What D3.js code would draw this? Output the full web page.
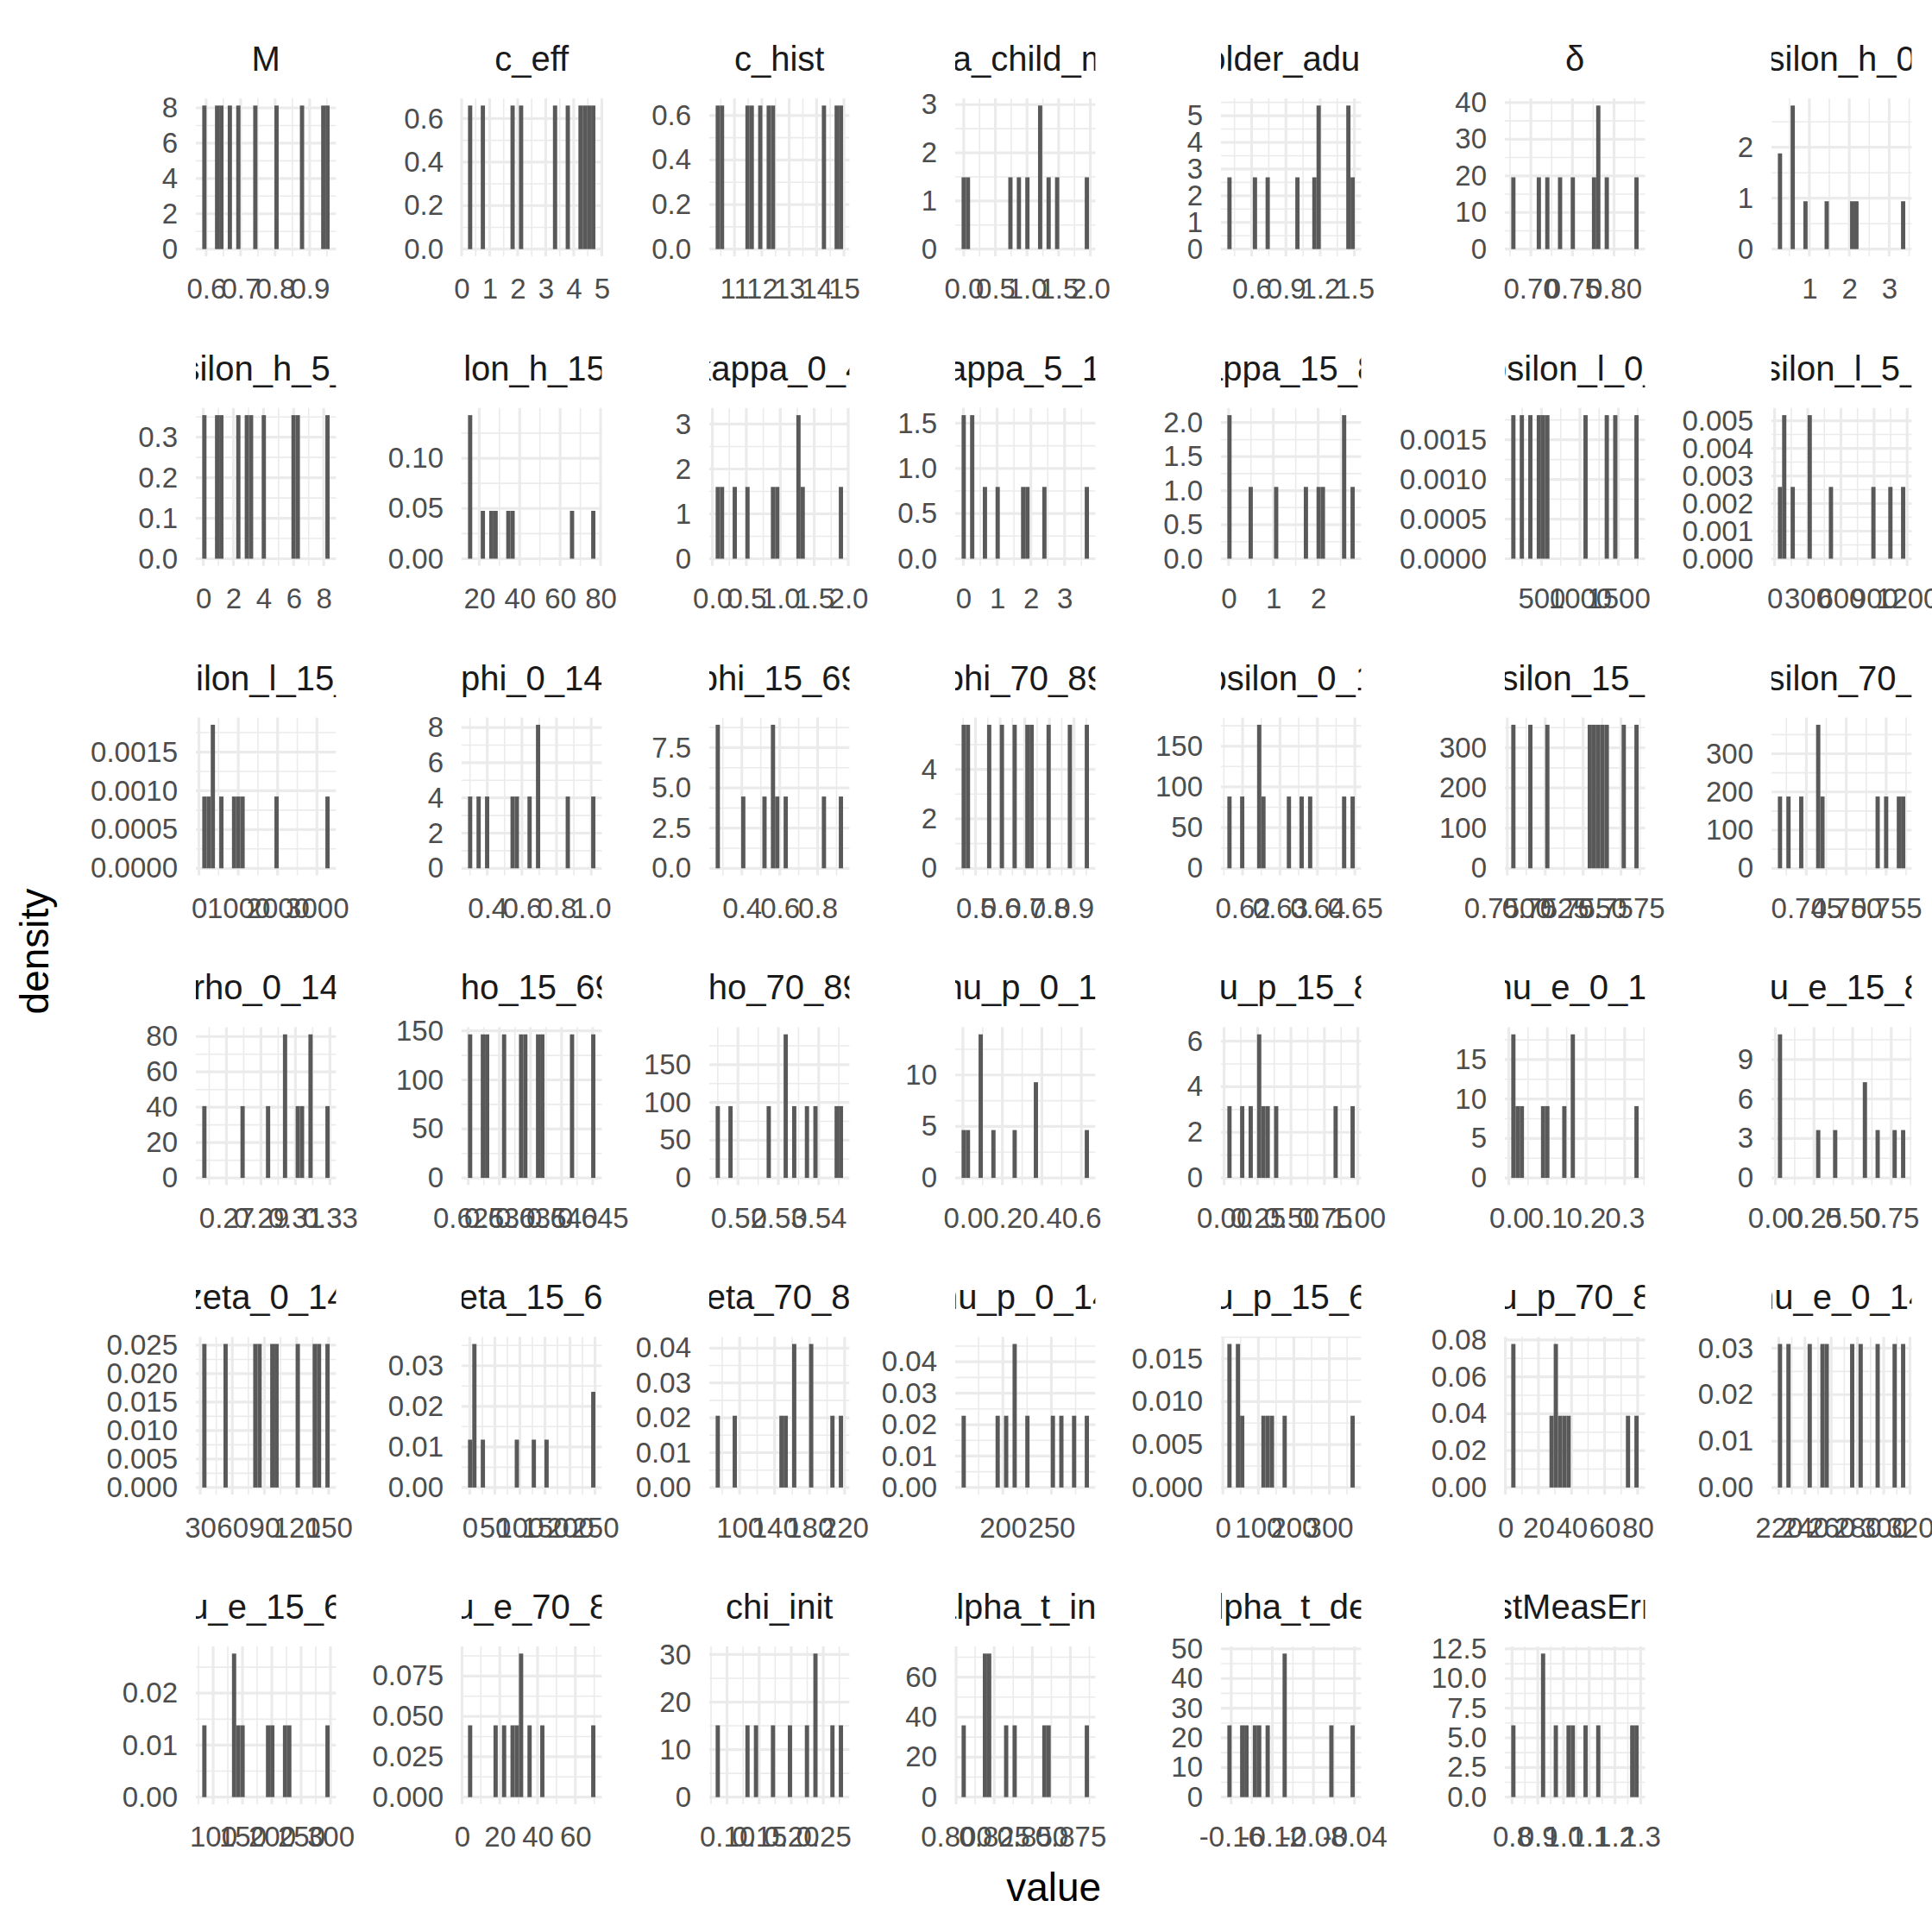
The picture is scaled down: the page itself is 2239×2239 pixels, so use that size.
<!DOCTYPE html>
<html><head><meta charset="utf-8">
<script src="https://cdn.jsdelivr.net/npm/d3@7"></script>
<style>body{margin:0;background:#fff}</style>
</head><body>
<script>
// ---------- DATA ----------
const panelNames = [
  "M","c_eff","c_hist","beta_child_mult","beta_older_adult_mult","\u03b4","epsilon_h_0_4",
  "epsilon_h_5_14","epsilon_h_15_89","kappa_0_4","kappa_5_14","kappa_15_89","epsilon_l_0_4","epsilon_l_5_14",
  "epsilon_l_15_89","phi_0_14","phi_15_69","phi_70_89","upsilon_0_14","upsilon_15_69","upsilon_70_89",
  "rho_0_14","rho_15_69","rho_70_89","mu_p_0_14","mu_p_15_89","mu_e_0_14","mu_e_15_89",
  "zeta_0_14","zeta_15_69","zeta_70_89","nu_p_0_14","nu_p_15_69","nu_p_70_89","nu_e_0_14",
  "nu_e_15_69","nu_e_70_89","chi_init","alpha_t_inc","alpha_t_dec","testMeasError"
];
// smallest and largest draw of each parameter
const dataLo = [0.595,0.303,10.39,0,0.406,0.679,0.264,
  0.07,15.5,0.08,0.01,0.02,134,48.5,
  137,0.301,0.273,0.452,0.6165,0.7504,0.7417,
  0.2572,0.6253,0.515,0.004,0.04,0.012,0.03,
  33.9,0.6,75,159.6,18.6,4.8,221,
  85,4.3,0.0855,0.805,-0.1617,0.805];
const dataHi = [0.9517,4.697,14.89,1.946,1.484,0.827,3.349,
  8.25,76.4,1.893,3.66,2.77,1736,1163.5,
  3269,1.012,0.923,0.952,0.6494,0.75852,0.75713,
  0.3286,0.6451,0.5455,0.628,0.961,0.3307,0.827,
  148.9,246.6,215.8,286.6,365.6,79.3,314.8,
  295,69.5,0.2775,0.8858,-0.0419,1.284];
// bin (of 30) that each of the 10 draws falls in
const binHits = [
  [0,3,4,6,8,12,17,23,28,29],[0,3,10,12,20,23,26,27,28,29],[0,1,7,8,10,12,13,25,28,29],
  [0,1,11,13,15,18,18,20,22,29],[0,6,9,16,20,21,21,28,28,29],[0,6,8,11,14,19,20,20,22,29],
  [0,0,3,3,3,6,11,17,18,29],
  [0,3,4,8,10,11,14,21,22,29],[0,0,0,3,5,6,9,10,24,29],[0,1,4,7,13,14,19,19,20,29],
  [0,0,2,2,5,8,14,15,19,29],[0,0,5,11,18,21,22,27,27,29],[0,2,4,6,7,8,17,22,24,29],
  [0,1,1,3,7,7,12,22,26,29],
  [0,1,2,2,4,7,8,9,17,29],[0,2,4,10,11,14,16,16,23,29],[0,0,6,11,13,13,14,16,25,29],
  [0,1,6,9,12,15,16,20,25,29],[0,3,7,7,8,14,17,19,27,29],[0,4,8,18,19,20,21,22,26,29],
  [0,2,5,9,9,10,23,25,28,29],
  [0,9,15,19,19,22,23,25,25,29],[0,3,4,8,12,13,16,17,24,29],[0,3,12,16,16,18,21,23,28,29],
  [0,1,4,4,4,7,12,17,17,29],[0,3,5,7,7,8,9,11,25,29],[0,0,1,2,7,8,12,14,14,29],
  [0,0,0,9,13,20,20,23,27,29],
  [0,5,12,13,16,17,22,26,27,29],[0,1,1,1,3,11,15,18,29,29],[0,4,15,16,18,18,22,22,27,29],
  [0,8,10,12,12,15,21,23,26,29],[0,0,2,2,3,8,9,10,13,29],[0,0,9,10,10,11,12,13,27,29],
  [0,2,7,10,11,17,19,23,27,29],
  [0,7,7,8,9,15,16,19,20,29],[0,6,8,10,11,12,12,14,17,29],[0,7,9,13,17,21,23,23,27,29],
  [0,5,5,6,6,10,12,19,20,29],[0,3,4,6,7,9,13,13,24,29],[0,7,7,10,13,14,17,20,28,29]
];
const xTickValues = [
  [0.6,0.7,0.8,0.9],[0,1,2,3,4,5],[11,12,13,14,15],[0,0.5,1,1.5,2],[0.6,0.9,1.2,1.5],[0.70,0.75,0.80],[1,2,3],
  [0,2,4,6,8],[20,40,60,80],[0,0.5,1,1.5,2],[0,1,2,3],[0,1,2],[500,1000,1500],[0,300,600,900,1200],
  [0,1000,2000,3000],[0.4,0.6,0.8,1.0],[0.4,0.6,0.8],[0.5,0.6,0.7,0.8,0.9],[0.62,0.63,0.64,0.65],[0.75,0.7525,0.755,0.7575],[0.745,0.75,0.755],
  [0.27,0.29,0.31,0.33],[0.625,0.63,0.635,0.64,0.645],[0.52,0.53,0.54],[0,0.2,0.4,0.6],[0,0.25,0.5,0.75,1.0],[0,0.1,0.2,0.3],[0,0.25,0.5,0.75],
  [30,60,90,120,150],[0,50,100,150,200,250],[100,140,180,220],[200,250],[0,100,200,300],[0,20,40,60,80],[220,240,260,280,300,320],
  [100,150,200,250,300],[0,20,40,60],[0.1,0.15,0.2,0.25],[0.8,0.825,0.85,0.875],[-0.16,-0.12,-0.08,-0.04],[0.8,0.9,1.0,1.1,1.2,1.3]
];
const yTickValues = [
  [0,2,4,6,8],[0,0.2,0.4,0.6],[0,0.2,0.4,0.6],[0,1,2,3],[0,1,2,3,4,5],[0,10,20,30,40],[0,1,2],
  [0,0.1,0.2,0.3],[0,0.05,0.1],[0,1,2,3],[0,0.5,1,1.5],[0,0.5,1,1.5,2],[0,0.0005,0.001,0.0015],[0,0.001,0.002,0.003,0.004,0.005],
  [0,0.0005,0.001,0.0015],[0,2,4,6,8],[0,2.5,5,7.5],[0,2,4],[0,50,100,150],[0,100,200,300],[0,100,200,300],
  [0,20,40,60,80],[0,50,100,150],[0,50,100,150],[0,5,10],[0,2,4,6],[0,5,10,15],[0,3,6,9],
  [0,0.005,0.01,0.015,0.02,0.025],[0,0.01,0.02,0.03],[0,0.01,0.02,0.03,0.04],[0,0.01,0.02,0.03,0.04],[0,0.005,0.01,0.015],[0,0.02,0.04,0.06,0.08],[0,0.01,0.02,0.03],
  [0,0.01,0.02],[0,0.025,0.05,0.075],[0,10,20,30],[0,20,40,60],[0,10,20,30,40,50],[0,2.5,5,7.5,10,12.5]
];
const nDraws = 10, nBins = 30;
const xTitle = "value", yTitle = "density";

// ---------- LAYOUT ----------
const W = 2239, H = 2239;
const colLeft = [227, 535, 822, 1107, 1415, 1744, 2053];
const panelW = 162.4, panelH = 183, rowTop0 = 114, rowStep = 358.8;
const FONT = "'Liberation Sans', Arial, Helvetica, sans-serif";

const svg = d3.select("body").append("svg").attr("width", W).attr("height", H)
  .attr("viewBox", `0 0 ${W} ${H}`).style("background", "#fff");
const defs = svg.append("defs");

function decs(v){ const s = String(v); const i = s.indexOf('.'); return i < 0 ? 0 : s.length - i - 1; }
function fmtFor(vals){ const d = d3.max(vals, decs); return v => v.toFixed(d); }
function minorBreaks(major, dom){
  const b = major.slice();
  if (b.length < 2) return [];
  const bd = b[1] - b[0];
  if (dom[0] < b[0]) b.unshift(b[0] - bd);
  if (dom[1] > b[b.length-1]) b.push(b[b.length-1] + bd);
  const out = [];
  for (let j = 0; j < b.length - 1; j++) out.push((b[j] + b[j+1]) / 2);
  return out.filter(v => v >= dom[0] && v <= dom[1]);
}

panelNames.forEach((name, i) => {
  const r = Math.floor(i / 7), c = i % 7;
  const L = colLeft[c], T = rowTop0 + r * rowStep;
  const lo = dataLo[i], hi = dataHi[i];
  const w = (hi - lo) / (nBins - 1);
  const counts = new Array(nBins).fill(0);
  binHits[i].forEach(k => counts[k]++);
  const bins = counts.map((cnt, k) => ({x0: lo + (k - 0.5) * w, x1: lo + (k + 0.5) * w, d: cnt / (nDraws * w), cnt}));
  const ymax = d3.max(bins, b => b.d);
  const xDom = [lo - 2 * w, hi + 2 * w];
  const yDom = [-0.05 * ymax, 1.05 * ymax];
  const x = d3.scaleLinear().domain(xDom).range([L, L + panelW]);
  const y = d3.scaleLinear().domain(yDom).range([T + panelH, T]);
  const xt = xTickValues[i].filter(v => v >= xDom[0] && v <= xDom[1]);
  const yt = yTickValues[i].filter(v => v >= yDom[0] && v <= yDom[1]);

  const g = svg.append("g");
  // grid: minor then major
  const grid = g.append("g").attr("stroke", "#EBEBEB").attr("fill", "none");
  minorBreaks(xt, xDom).forEach(v => grid.append("line").attr("x1", x(v)).attr("x2", x(v)).attr("y1", T).attr("y2", T + panelH).attr("stroke-width", 1.6));
  minorBreaks(yt, yDom).forEach(v => grid.append("line").attr("y1", y(v)).attr("y2", y(v)).attr("x1", L).attr("x2", L + panelW).attr("stroke-width", 1.6));
  xt.forEach(v => grid.append("line").attr("x1", x(v)).attr("x2", x(v)).attr("y1", T).attr("y2", T + panelH).attr("stroke-width", 3.2));
  yt.forEach(v => grid.append("line").attr("y1", y(v)).attr("y2", y(v)).attr("x1", L).attr("x2", L + panelW).attr("stroke-width", 3.2));

  // bars
  g.append("g").selectAll("rect").data(bins.filter(b => b.cnt > 0)).join("rect")
    .attr("x", b => x(b.x0)).attr("width", b => x(b.x1) - x(b.x0))
    .attr("y", b => y(b.d)).attr("height", b => y(0) - y(b.d))
    .attr("fill", "#595959");

  // axes
  const ax = g.append("g").attr("transform", `translate(0,${T + panelH})`)
    .call(d3.axisBottom(x).tickValues(xt).tickSize(0).tickPadding(26).tickFormat(fmtFor(xt)));
  const ay = g.append("g").attr("transform", `translate(${L},0)`)
    .call(d3.axisLeft(y).tickValues(yt).tickSize(0).tickPadding(21).tickFormat(fmtFor(yt)));
  [ax, ay].forEach(a => {
    a.select(".domain").remove();
    a.attr("font-size", null).attr("font-family", null);
    a.selectAll("text").attr("font-size", 33).attr("font-family", FONT).attr("fill", "#4D4D4D");
  });

  // strip title (clipped to panel width)
  const cid = "clip" + i;
  defs.append("clipPath").attr("id", cid).append("rect")
    .attr("x", L).attr("y", T - 80).attr("width", panelW).attr("height", 80);
  g.append("g").attr("clip-path", `url(#${cid})`).append("text")
    .attr("x", L + panelW / 2).attr("y", T - 32).attr("text-anchor", "middle")
    .attr("font-family", FONT).attr("font-size", 40).attr("fill", "#1A1A1A").text(name);
});

// axis titles
svg.append("text").attr("x", (colLeft[0] + colLeft[6] + panelW) / 2).attr("y", 2203)
  .attr("text-anchor", "middle").attr("font-family", FONT).attr("font-size", 46).attr("fill", "#000").text(xTitle);
svg.append("text").attr("transform", `translate(56,${rowTop0 + (5 * rowStep + panelH) / 2}) rotate(-90)`)
  .attr("text-anchor", "middle").attr("font-family", FONT).attr("font-size", 46).attr("fill", "#000").text(yTitle);
</script>
</body></html>
